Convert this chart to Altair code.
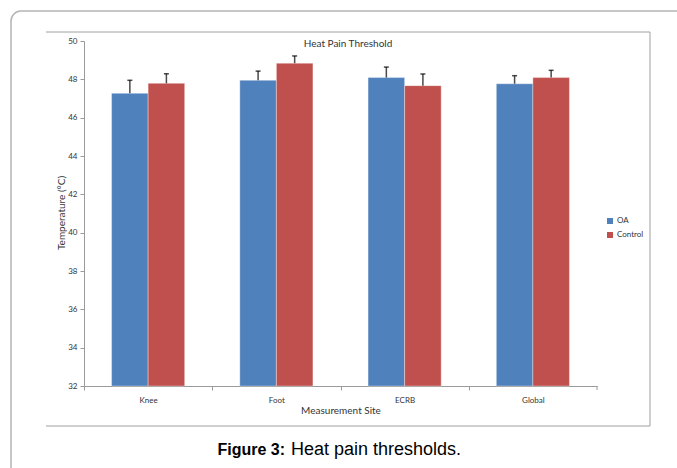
import altair as alt
import pandas as pd

sites = ["Knee", "Foot", "ECRB", "Global"]
groups = ["OA", "Control"]
oa_mean = [47.27, 47.95, 48.09, 47.77]
oa_err = [0.68, 0.48, 0.55, 0.42]
ctrl_mean = [47.79, 48.84, 47.67, 48.09]
ctrl_err = [0.50, 0.38, 0.61, 0.38]
y_ticks = [32, 34, 36, 38, 40, 42, 44, 46, 48, 50]
chart_title = "Heat Pain Threshold"
x_title = "Measurement Site"
y_title = "Temperature (°C)"
caption_bold = "Figure 3:"
caption_text = "Heat pain thresholds."

rows = []
for i, s in enumerate(sites):
    rows.append({"site": s, "group": "OA", "mean": oa_mean[i], "upper": oa_mean[i] + oa_err[i]})
    rows.append({"site": s, "group": "Control", "mean": ctrl_mean[i], "upper": ctrl_mean[i] + ctrl_err[i]})
df = pd.DataFrame(rows)

W, H = 513, 345
FONT = "Lato"
AX = "#9a9a9a"
STEP = W / len(sites)

xscale = alt.Scale(paddingInner=0.43, paddingOuter=0.215)
xaxis = alt.Axis(labelAngle=0, labelFont=FONT, labelFontSize=8, labelColor="#333333",
                 tickSize=4, tickColor=AX, domainColor=AX, tickOffset=-STEP / 2,
                 labelOffset=STEP / 2, labelPadding=6, title=None)
yscale = alt.Scale(domain=[32, 50], zero=False, nice=False)
yaxis = alt.Axis(values=y_ticks, grid=False, labelFont=FONT, labelFontSize=8,
                 labelColor="#333333", tickSize=4, tickColor=AX, domainColor=AX,
                 labelPadding=3, labelOverlap=False, labelFlush=False, title=None)

def xe():
    return alt.X("site:N", sort=sites, title=None, scale=xscale, axis=xaxis)

xoff = alt.XOffset("group:N", sort=groups, scale=alt.Scale(paddingInner=0, paddingOuter=0))
color = alt.Color("group:N", sort=groups,
                  scale=alt.Scale(domain=groups, range=["#4F81BD", "#C0504D"]),
                  legend=alt.Legend(orient="none", legendX=522, legendY=176, title=None,
                                    symbolType="square", symbolSize=36, symbolStrokeWidth=0,
                                    labelFont=FONT, labelFontSize=8, labelColor="#333333",
                                    rowPadding=6, labelOffset=3))

base = alt.Chart(df)
bars = base.mark_bar(stroke="white", strokeWidth=1, strokeOpacity=0.35).encode(
    x=xe(), xOffset=xoff,
    y=alt.Y("mean:Q", scale=yscale, title=None, axis=yaxis),
    y2=alt.datum(32), color=color)
stems = base.mark_rule(color="#4a4a4a", strokeWidth=1.5).encode(
    x=xe(), xOffset=xoff,
    y=alt.Y("mean:Q", scale=yscale, title=None, axis=yaxis), y2="upper:Q")
caps = base.mark_tick(color="#000000", size=5, thickness=1.5).encode(
    x=xe(), xOffset=xoff,
    y=alt.Y("upper:Q", scale=yscale, title=None, axis=yaxis))

one = pd.DataFrame({"k": [0]})
def txt(text, x, y, size, weight="normal", angle=0, align="center", font=FONT, baseline="middle", color="#333333"):
    return alt.Chart(one).mark_text(text=text, fontSize=size, fontWeight=weight, angle=angle,
                                    align=align, baseline=baseline, font=font, color=color).encode(
        x=alt.value(x), y=alt.value(y))

title_t = txt(chart_title, 348 - 84, 44 - 41, 10)
xt = txt(x_title, 341 - 84, 411 - 41, 10)
yt = txt(y_title, 62 - 84, 213 - 41, 10, angle=270)
cap1 = txt(caption_bold, 285 - 84, 455 - 41, 16, weight="bold", align="right",
           font="Liberation Sans", baseline="alphabetic", color="#000000")
cap2 = txt(caption_text, 291 - 84, 455 - 41, 18, align="left",
           font="Liberation Sans", baseline="alphabetic", color="#000000")

# closing tick at the right end of the category axis
end_tick = alt.Chart(one).mark_rule(color=AX, strokeWidth=1).encode(
    x=alt.value(W), y=alt.value(H), y2=alt.value(H + 4))

outer = alt.Chart(one).mark_rect(fill=None, stroke="#b4b4b4", strokeWidth=1.5, cornerRadius=10).encode(
    x=alt.value(11 - 84), x2=alt.value(700 - 84), y=alt.value(11 - 41), y2=alt.value(500 - 41))
frame_col = "#a0a0a0"
top_line = alt.Chart(one).mark_rule(color=frame_col, strokeWidth=1).encode(
    x=alt.value(46 - 84), x2=alt.value(650 - 84), y=alt.value(32 - 41))
bot_line = alt.Chart(one).mark_rule(color=frame_col, strokeWidth=1).encode(
    x=alt.value(46 - 84), x2=alt.value(650 - 84), y=alt.value(426 - 41))
right_line = alt.Chart(one).mark_rule(color=frame_col, strokeWidth=1).encode(
    x=alt.value(650 - 84), y=alt.value(32 - 41), y2=alt.value(426 - 41))

chart = alt.layer(outer, top_line, bot_line, right_line, bars, stems, caps, end_tick,
                  title_t, xt, yt, cap1, cap2).properties(
    width=W, height=H,
    autosize=alt.AutoSizeParams(type="none"),
    padding={"left": 84, "top": 41, "right": 80, "bottom": 82},
    background="white",
).configure_view(stroke=None)

chart.save("out.html", embed_options={"renderer": "svg", "actions": False})
